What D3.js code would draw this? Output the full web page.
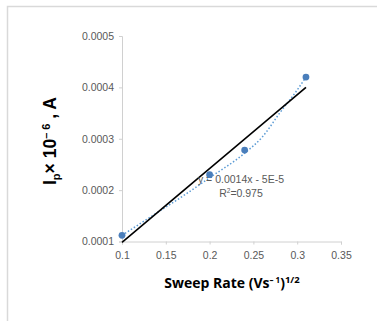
<!DOCTYPE html>
<html><head><meta charset="utf-8">
<script src="https://cdn.jsdelivr.net/npm/d3@7/dist/d3.min.js"></script>
<style>
html,body{margin:0;padding:0;background:#fff;}
svg{display:block;}
</style></head>
<body>
<svg id="c" width="377" height="321"></svg>
<script>
// Data
const sweepRate = [0.1, 0.2, 0.24, 0.31];
const peakCurrent = [0.000112, 0.00023, 0.000278, 0.00042];
// dotted (polynomial) trend
const trendX = [0.1, 0.14, 0.17, 0.2, 0.24, 0.26, 0.28, 0.30, 0.31];
const trendY = [0.000112, 0.000156, 0.000189, 0.000224, 0.000272, 0.000303, 0.000350, 0.000395, 0.00042];
// black fit line endpoints
const fitX = [0.1, 0.31];
const fitY = [0.0000985, 0.0004];
const xTicks = [0.1, 0.15, 0.2, 0.25, 0.3, 0.35];
const yTicks = [0.0001, 0.0002, 0.0003, 0.0004, 0.0005];
const eqText = "y = 0.0014x - 5E-5";
const r2Text = "=0.975";

const svg = d3.select("#c");
// chart border
svg.append("path").attr("d","M7.5,330 V6.5 H390").attr("fill","none").attr("stroke","#d9d9d9").attr("stroke-width",1.5);

const x = d3.scaleLinear().domain([0.1,0.35]).range([122,341]);
const y = d3.scaleLinear().domain([0.0001,0.0005]).range([241.5,36]);

const font = "'Liberation Sans Narrow','Liberation Sans',Arial,sans-serif";

const xa = svg.append("g").attr("transform","translate(0,241.5)")
  .call(d3.axisBottom(x).tickValues(xTicks).tickSize(3).tickPadding(7).tickFormat(d=>String(+d.toFixed(2))));
const ya = svg.append("g").attr("transform","translate(122,0)")
  .call(d3.axisLeft(y).tickValues(yTicks).tickSize(3).tickPadding(5).tickFormat(d=>String(+d.toFixed(4))));
[xa,ya].forEach(a=>{
  a.select(".domain").attr("stroke","#d0d0d0");
  a.selectAll(".tick line").attr("stroke","#d0d0d0");
  a.selectAll(".tick text").attr("fill","#595959").attr("font-family",font).attr("font-size",10.5);
});

// dotted trend
svg.append("path")
  .datum(trendX.map((d,i)=>[d,trendY[i]]))
  .attr("d", d3.line().x(d=>x(d[0])).y(d=>y(d[1])).curve(d3.curveMonotoneX))
  .attr("fill","none").attr("stroke","#5b9bd5").attr("stroke-width",1.5).attr("stroke-dasharray","1.5,2");

// black line
svg.append("path")
  .datum(fitX.map((d,i)=>[d,fitY[i]]))
  .attr("d", d3.line().x(d=>x(d[0])).y(d=>y(d[1])))
  .attr("fill","none").attr("stroke","#000").attr("stroke-width",1.6);

// annotation
const ann = svg.append("g").attr("font-family",font).attr("font-size",10.5).attr("fill","#595959").attr("text-anchor","middle");
ann.append("text").attr("x",241).attr("y",182.5).text(eqText);
const r2 = ann.append("text").attr("x",241).attr("y",196.5);
r2.append("tspan").text("R");
r2.append("tspan").attr("font-size",6.5).attr("dy",-4).text("2");
r2.append("tspan").attr("dy",4).text(r2Text);

// points
svg.selectAll("circle.p").data(sweepRate).join("circle")
  .attr("cx",(d)=>x(d)).attr("cy",(d,i)=>y(peakCurrent[i])).attr("r",3.4).attr("fill","#4a7ebb");

// x title
const xt = svg.append("text").attr("x",232).attr("y",288).attr("text-anchor","middle")
  .attr("font-family","'Open Sans','Liberation Sans',sans-serif").attr("font-weight","bold").attr("font-size",14).attr("fill","#000");
xt.append("tspan").text("Sweep Rate (Vs");
xt.append("tspan").attr("font-size",8).attr("dy",-5).text("\u2013 ");
xt.append("tspan").attr("font-size",8).text("1");
xt.append("tspan").attr("dy",5).text(")");
xt.append("tspan").attr("font-size",9.5).attr("dy",-5).text("1/2");

// y title
const yt = svg.append("text").attr("transform","translate(56,141) rotate(-90)").attr("text-anchor","middle")
  .attr("font-family","'Liberation Sans',Arial,sans-serif").attr("font-weight","bold").attr("font-size",17.5).attr("fill","#000");
yt.append("tspan").text("I");
yt.append("tspan").attr("font-size",11).attr("dy",4).text("p");
yt.append("tspan").attr("dy",-4).text("\u00d7 10");
yt.append("tspan").attr("font-size",11).attr("dy",-6).text("\u2013 6");
yt.append("tspan").attr("dy",6).text(" , A");
</script>
</body></html>
